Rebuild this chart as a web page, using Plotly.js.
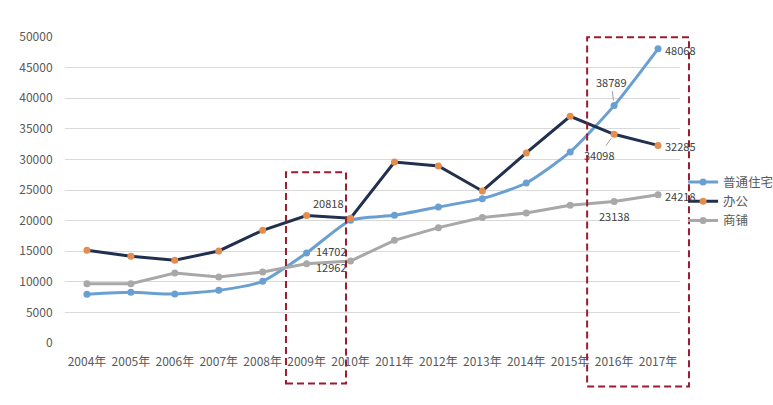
<!DOCTYPE html>
<html><head><meta charset="utf-8">
<script src="https://cdn.plot.ly/plotly-3.0.1.min.js"></script>
<style>html,body{margin:0;padding:0;background:#fff}#c{width:773px;height:405px}</style>
</head><body><div id="c"></div>
<script>
const years = ["2004年","2005年","2006年","2007年","2008年","2009年","2010年","2011年","2012年","2013年","2014年","2015年","2016年","2017年"];
const residential = [7960,8280,8000,8600,10080,14702,20050,20860,22220,23590,26140,31210,38789,48068];
const office = [15150,14170,13510,15040,18410,20818,20380,29580,28930,24840,31050,37040,34098,32285];
const shops = [9700,9700,11440,10790,11600,12962,13400,16780,18850,20490,21250,22500,23138,24218];
const names = ["普通住宅","办公","商铺"];
const yTicks = [0,5000,10000,15000,20000,25000,30000,35000,40000,45000,50000];

const font = "'Noto Sans CJK SC', 'Microsoft YaHei', sans-serif";
const traces = [
  {x: years, y: residential, name: names[0], type: 'scatter', mode: 'lines+markers',
   line: {color: '#6a9fd2', width: 3, shape: 'spline', smoothing: 0.6},
   marker: {color: '#6a9fd2', size: 7}},
  {x: years, y: office, name: names[1], type: 'scatter', mode: 'lines+markers',
   line: {color: '#22304f', width: 3},
   marker: {color: '#e38d4f', size: 7}},
  {x: years, y: shops, name: names[2], type: 'scatter', mode: 'lines+markers',
   line: {color: '#a8a8a8', width: 3},
   marker: {color: '#a8a8a8', size: 7}}
];

function lab(i, arr, xs, ys, arrow, ax, ay) {
  const a = {x: years[i], y: arr[i], text: String(arr[i]), xref: 'x', yref: 'y',
    font: {family: font, size: 11, color: '#404040'}, showarrow: false, xshift: xs, yshift: ys};
  if (arrow) { Object.assign(a, {showarrow: true, arrowhead: 0, arrowwidth: 1, arrowcolor: '#a0a0a0', ax: ax, ay: ay, standoff: 5, xshift: 0, yshift: 0}); }
  return a;
}
const annotations = [
  lab(5, office, 22, 13),
  lab(5, residential, 25, 2),
  lab(5, shops, 25, -3),
  lab(12, residential, 0, 0, true, -3, -24),
  lab(12, office, 0, 0, true, -15, 21),
  lab(12, shops, 0, -15),
  lab(13, residential, 22, -1),
  lab(13, office, 22, -1),
  lab(13, shops, 22, -1)
];

const boxStyle = {color: '#9b1b30', width: 2, dash: '7px,4px'};
const shapes = [
  {type: 'rect', xref: 'paper', yref: 'paper', x0: 0.3593, x1: 0.4569, y0: -0.132, y1: 0.558, line: boxStyle},
  {type: 'rect', xref: 'paper', yref: 'paper', x0: 0.849, x1: 1.0146, y0: -0.142, y1: 0.999, line: boxStyle}
];

const layout = {
  width: 773, height: 405,
  margin: {l: 65, r: 93, t: 37, b: 62, autoexpand: false},
  paper_bgcolor: '#fff', plot_bgcolor: '#fff',
  font: {family: font, size: 12, color: '#595959'},
  showlegend: true,
  legend: {x: 1.005, xanchor: 'left', y: 0.463, yanchor: 'middle', font: {size: 12.5, color: '#595959'}, itemwidth: 30, bgcolor: 'rgba(0,0,0,0)'},
  xaxis: {type: 'category', range: [-0.5, 13.5], autorange: false, showgrid: false, zeroline: false, showline: false, tickangle: 0, ticks: 'outside', ticklen: 8, tickcolor: 'rgba(0,0,0,0)', tickfont: {size: 12, color: '#595959'}},
  yaxis: {range: [0, 50000], autorange: false, tickvals: yTicks, tickformat: 'd', showgrid: true, gridcolor: '#d9d9d9', gridwidth: 1, zeroline: false, showline: false, ticks: 'outside', ticklen: 9, tickcolor: 'rgba(0,0,0,0)', tickfont: {size: 12, color: '#595959'}},
  annotations: annotations,
  shapes: shapes
};
Plotly.newPlot('c', traces, layout, {displayModeBar: false, staticPlot: true});
</script></body></html>
